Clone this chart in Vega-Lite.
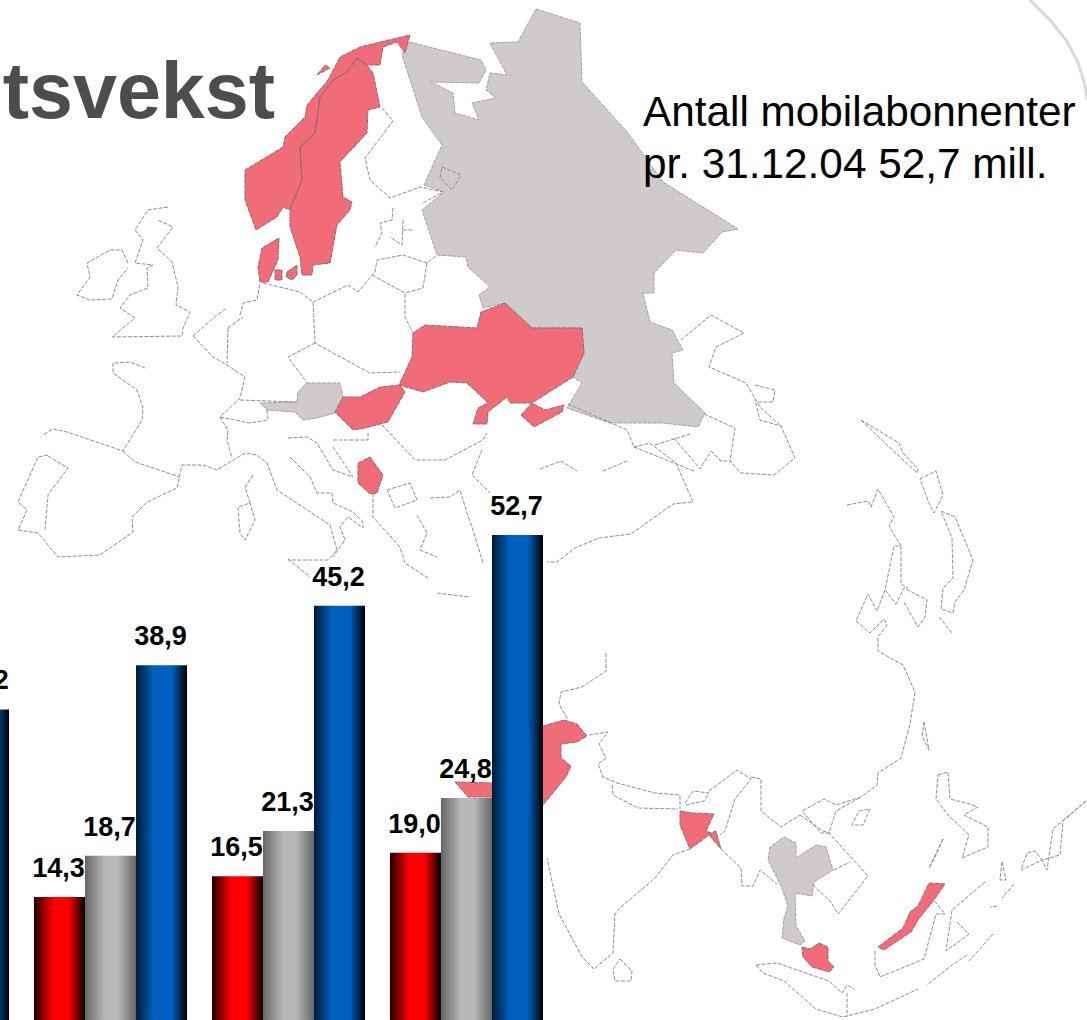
{"$schema":"https://vega.github.io/schema/vega-lite/v6.json","width":1087,"height":1020,"padding":0,"autosize":{"type":"none"},"background":"white","view":{"stroke":null},"datasets":{"bars":[{"p":"P1","s":"c","v":34.2,"t":"34,2"},{"p":"P2","s":"a","v":14.3,"t":"14,3"},{"p":"P2","s":"b","v":18.7,"t":"18,7"},{"p":"P2","s":"c","v":38.9,"t":"38,9"},{"p":"P3","s":"a","v":16.5,"t":"16,5"},{"p":"P3","s":"b","v":21.3,"t":"21,3"},{"p":"P3","s":"c","v":45.2,"t":"45,2"},{"p":"P4","s":"a","v":19.0,"t":"19,0"},{"p":"P4","s":"b","v":24.8,"t":"24,8"},{"p":"P4","s":"c","v":52.7,"t":"52,7"}]},"resolve":{"scale":{"x":"independent","y":"independent","xOffset":"independent"}},"layer":[
{"data":{"values":[{"type":"Feature","properties":{"name":"swoosh"},"geometry":{"type":"LineString","coordinates":[[1030,0],[1050,20],[1066,40],[1078,62],[1085,85],[1087,100]]}}]},"projection":{"type":"identity","scale":1,"translate":[0,0]},"mark":{"type":"geoshape","filled":false,"fill":null,"stroke":"#d6d9dd","strokeWidth":3}},
{"data":{"values":[{"type":"Feature","properties":{"name":"grey"},"geometry":{"type":"MultiPolygon","coordinates":[[[[536,9],[580,23],[582,82],[628,133],[663,182],[738,229],[722,232],[703,253],[676,250],[654,273],[654,293],[643,293],[650,322],[672,330],[683,350],[672,353],[674,383],[705,413],[698,427],[663,423],[610,423],[567,408],[582,383],[573,377],[584,353],[582,328],[532,328],[505,303],[483,308],[479,295],[490,287],[468,267],[466,257],[437,255],[422,210],[444,192],[424,185],[442,145],[422,117],[402,55],[409,42],[481,60],[486,70],[479,83],[431,82],[453,93],[455,113],[479,120],[472,103],[496,98],[486,90],[490,73],[507,75],[490,43],[518,42],[536,9]]],[[[307,383],[340,383],[343,397],[335,413],[317,418],[303,420],[295,412],[267,410],[260,403],[297,402],[298,392],[307,383]]],[[[784,837],[796,843],[796,858],[816,845],[826,847],[833,870],[814,882],[812,896],[795,893],[796,926],[805,941],[800,945],[782,938],[784,918],[788,906],[781,886],[768,860],[770,847],[784,837]]]]}}]},"projection":{"type":"identity","scale":1,"translate":[0,0]},"mark":{"type":"geoshape","fill":"#cfcbcb","stroke":"#a5a1a1","strokeWidth":1,"strokeDash":[4,1]}},
{"data":{"values":[{"type":"Feature","properties":{"name":"red"},"geometry":{"type":"MultiPolygon","coordinates":[[[[410,35],[405,53],[397,42],[383,47],[380,65],[367,65],[357,58],[347,72],[333,80],[320,97],[315,133],[300,147],[302,180],[290,210],[283,207],[277,217],[256,230],[245,200],[245,170],[283,147],[285,137],[305,117],[307,105],[328,80],[340,57],[360,47],[393,39],[410,35]]],[[[357,58],[367,65],[373,73],[380,107],[368,110],[367,133],[340,162],[343,197],[352,202],[350,210],[337,225],[330,263],[313,265],[312,275],[302,275],[300,257],[290,227],[290,210],[302,180],[300,147],[315,133],[320,97],[333,80],[347,72],[357,58]]],[[[279,238],[278,260],[268,282],[260,282],[258,267],[262,248],[279,238]]],[[[275,270],[282,270],[282,280],[275,280],[275,270]]],[[[287,272],[297,265],[297,275],[292,280],[286,277],[287,272]]],[[[317,75],[325,65],[330,68],[317,75]]],[[[505,303],[532,328],[582,328],[584,353],[573,377],[532,403],[510,403],[507,397],[488,412],[487,424],[473,424],[478,408],[488,403],[467,383],[450,382],[423,392],[399,385],[412,357],[413,333],[425,325],[477,328],[481,312],[505,303]]],[[[521,415],[532,403],[545,410],[564,405],[562,412],[534,427],[521,415]]],[[[343,397],[360,397],[380,387],[400,385],[405,392],[388,422],[365,428],[353,430],[335,412],[343,397]]],[[[370,457],[383,475],[377,493],[370,494],[358,483],[358,463],[370,457]]],[[[455,782],[493,783],[520,740],[543,726],[564,720],[577,724],[587,736],[577,742],[561,744],[561,758],[571,766],[566,777],[543,805],[490,797],[468,797],[455,782]]],[[[680,811],[693,813],[714,814],[706,831],[711,833],[716,831],[721,849],[709,835],[690,849],[680,825],[680,811]]],[[[802,947],[810,949],[819,943],[828,947],[828,961],[834,967],[829,972],[812,967],[803,957],[802,947]]],[[[878,947],[903,928],[910,912],[918,906],[929,883],[945,884],[934,900],[918,920],[911,932],[884,950],[878,947]]]]}}]},"projection":{"type":"identity","scale":1,"translate":[0,0]},"mark":{"type":"geoshape","fill":"#f06c78","stroke":"#8f6a6e","strokeWidth":1,"strokeDash":[5,1]}},
{"data":{"values":[{"type":"Feature","properties":{"name":"outlines"},"geometry":{"type":"MultiLineString","coordinates":[[[168,207],[148,210],[135,230],[143,240],[135,263],[153,265],[147,268],[148,288],[130,295],[120,308],[135,318],[112,337],[182,336],[183,328],[190,312],[176,305],[178,287],[172,262],[157,248],[173,227],[158,220]],[[128,263],[122,250],[110,250],[87,263],[90,277],[77,295],[90,300],[112,299],[118,280],[128,268]],[[145,368],[130,362],[113,363],[113,373],[137,390],[143,408],[142,420],[123,451],[67,432],[53,429],[43,435]],[[48,455],[38,457],[18,502],[27,510],[18,530],[38,533],[58,557],[100,555],[133,532],[132,517],[147,502],[177,488],[182,465],[203,465],[217,470],[245,453],[257,455],[267,463],[277,490],[330,525],[337,550],[328,560],[288,560]],[[48,456],[68,468],[48,495],[45,530]],[[123,451],[135,462],[180,477]],[[290,457],[310,477],[317,493],[332,493],[333,503],[353,512],[363,522],[363,528],[348,517],[340,527],[345,540],[333,557]],[[288,438],[307,437],[317,443],[333,470],[353,477]],[[373,493],[373,517],[400,547],[405,563],[428,578]],[[193,336],[217,315],[227,308]],[[240,315],[243,303],[257,300],[260,283]],[[193,336],[213,357],[227,365],[245,377],[240,398],[220,417],[228,430],[227,440],[232,458]],[[228,328],[227,363]],[[228,328],[243,317]],[[263,283],[300,292],[313,302],[315,343],[333,353],[370,373],[400,372]],[[313,302],[348,285],[358,292],[375,272],[377,260],[403,255],[427,263],[437,255]],[[372,275],[405,293],[405,317],[413,333]],[[427,263],[423,288],[405,293]],[[315,343],[288,357],[307,383]],[[240,400],[297,402]],[[220,417],[250,423],[268,420],[267,410]],[[382,425],[415,460],[445,460],[483,440],[487,433]],[[482,450],[472,475],[490,493]],[[387,490],[410,483],[417,500],[395,508],[387,490]],[[333,440],[368,440],[368,433]],[[333,447],[353,477]],[[430,498],[450,497],[460,490],[467,513],[473,530],[483,563]],[[417,515],[427,533],[420,550],[437,557]],[[288,559],[310,577]],[[253,475],[245,487],[250,503],[238,507],[240,533],[245,540],[255,520],[250,503]],[[437,593],[470,597]],[[382,108],[393,121],[365,158],[370,180],[390,198],[420,187],[443,192],[423,203]],[[393,208],[392,220],[380,223],[382,233],[375,247]],[[403,220],[402,245],[390,237]],[[403,230],[413,230]],[[442,167],[461,175],[452,190],[440,178],[442,167]],[[568,404],[627,430],[634,447],[650,443],[676,463],[693,502],[673,504],[631,534],[599,538],[575,548],[557,562],[547,562]],[[704,414],[735,428],[730,461],[741,473],[774,475],[795,458],[781,426],[760,420],[755,400]],[[681,340],[711,315],[744,333],[716,347],[709,367],[746,383],[760,407],[782,427]],[[755,385],[775,390],[773,402],[757,402]],[[634,447],[694,471]],[[711,451],[721,461],[730,461]],[[655,445],[690,434]],[[674,438],[700,469],[711,451]],[[540,469],[561,461],[577,471]],[[603,471],[627,461]],[[861,420],[899,443],[903,453],[918,469],[917,473],[885,443],[861,420]],[[847,505],[868,501],[871,507],[878,489],[894,517],[889,526],[901,546],[894,546],[885,590],[896,604],[904,588],[927,600],[925,617],[918,627],[904,602]],[[901,546],[901,584],[908,588]],[[885,590],[877,611],[868,594],[856,621],[870,633],[884,619],[887,625],[878,637],[878,651],[903,665],[915,692],[910,724],[901,758],[878,773],[877,785],[861,797],[836,805],[824,799],[802,811],[821,833],[829,833],[836,811],[861,797]],[[924,722],[929,750],[922,736],[924,722]],[[859,811],[870,809],[863,825],[852,825],[859,811]],[[920,479],[936,471],[943,495],[934,513],[929,503],[920,479]],[[941,511],[955,517],[973,560],[964,590],[955,602],[953,613],[941,609],[943,588],[953,578],[952,538],[941,511]],[[939,617],[952,633]],[[606,653],[606,671],[582,687],[561,692],[559,704],[568,720]],[[589,735],[608,732],[599,744],[606,758],[598,764],[603,777],[617,783],[655,793],[680,795],[680,809]],[[612,785],[613,795],[638,808],[678,809]],[[685,803],[693,791],[709,793],[704,801],[686,805]],[[709,791],[737,770],[751,779],[735,799],[725,831],[720,835]],[[751,777],[761,779],[761,811],[781,827],[800,815]],[[721,849],[741,868],[742,886],[753,886],[760,870],[777,884]],[[800,815],[823,831],[829,833],[868,876],[838,914],[831,902],[812,884]],[[834,870],[850,862]],[[690,849],[673,855],[655,878],[620,908],[615,914],[613,953],[594,969],[582,957],[559,914],[547,858]],[[620,959],[632,971],[631,981],[615,981],[613,969],[620,959]],[[756,965],[777,963],[829,981],[842,993],[847,985],[854,989]],[[756,965],[763,973],[784,981],[816,1009],[843,1017],[875,1009],[918,989]],[[847,993],[847,1017]],[[875,951],[875,965],[880,977],[924,959],[936,914],[945,914],[934,900]],[[985,882],[952,910],[946,951],[969,934],[957,922]],[[938,775],[948,772],[950,799],[966,803],[978,807],[964,815],[988,827],[988,847],[962,858],[969,835],[948,815],[936,799],[938,775]],[[943,839],[929,868],[936,855],[943,839]],[[1086,801],[1053,829],[1047,870],[1042,860],[1021,870],[1027,853],[1035,851],[1042,860],[1060,855],[1063,821],[1086,801]],[[993,934],[969,961]],[[967,955],[952,965],[927,985]],[[1014,884],[1002,898]],[[997,906],[990,907]],[[1002,862],[1006,880],[1000,880],[1002,862]]]}}]},"projection":{"type":"identity","scale":1,"translate":[0,0]},"mark":{"type":"geoshape","filled":false,"fill":null,"stroke":"#8e8e8e","strokeWidth":1,"strokeDash":[4,1.5]}},
{"data":{"name":"bars"},"transform":[{"filter":"datum.s==='a'"}],"mark":{"type":"bar","color":{"gradient":"linear","x1":0,"x2":1,"y1":0,"y2":0,"stops":[{"offset":0,"color":"#200000"},{"offset":0.38,"color":"#ff0000"},{"offset":0.68,"color":"#ff0000"},{"offset":1,"color":"#000000"}]}},"encoding":{"x":{"field":"p","type":"nominal","scale":{"domain":["P1","P2","P3","P4"],"range":[-144,543],"paddingInner":0.14,"paddingOuter":0},"axis":null},"xOffset":{"field":"s","type":"nominal","scale":{"domain":["a","b","c"]}},"y":{"field":"v","type":"quantitative","scale":{"domain":[1.27,109.43],"range":[1020,0],"clamp":true,"nice":false,"zero":false},"axis":null}}},
{"data":{"name":"bars"},"transform":[{"filter":"datum.s==='b'"}],"mark":{"type":"bar","color":{"gradient":"linear","x1":0,"x2":1,"y1":0,"y2":0,"stops":[{"offset":0,"color":"#666666"},{"offset":0.4,"color":"#b8b8b8"},{"offset":0.65,"color":"#b8b8b8"},{"offset":1,"color":"#666666"}]}},"encoding":{"x":{"field":"p","type":"nominal","scale":{"domain":["P1","P2","P3","P4"],"range":[-144,543],"paddingInner":0.14,"paddingOuter":0},"axis":null},"xOffset":{"field":"s","type":"nominal","scale":{"domain":["a","b","c"]}},"y":{"field":"v","type":"quantitative","scale":{"domain":[1.27,109.43],"range":[1020,0],"clamp":true,"nice":false,"zero":false},"axis":null}}},
{"data":{"name":"bars"},"transform":[{"filter":"datum.s==='c'"}],"mark":{"type":"bar","color":{"gradient":"linear","x1":0,"x2":1,"y1":0,"y2":0,"stops":[{"offset":0,"color":"#001a33"},{"offset":0.35,"color":"#0060c0"},{"offset":0.7,"color":"#0060c0"},{"offset":1,"color":"#000000"}]}},"encoding":{"x":{"field":"p","type":"nominal","scale":{"domain":["P1","P2","P3","P4"],"range":[-144,543],"paddingInner":0.14,"paddingOuter":0},"axis":null},"xOffset":{"field":"s","type":"nominal","scale":{"domain":["a","b","c"]}},"y":{"field":"v","type":"quantitative","scale":{"domain":[1.27,109.43],"range":[1020,0],"clamp":true,"nice":false,"zero":false},"axis":null}}},
{"data":{"name":"bars"},"mark":{"type":"text","font":"Liberation Sans","fontWeight":"bold","fontSize":27,"color":"#000000","baseline":"alphabetic","dy":-20,"dx":-1},"encoding":{"x":{"field":"p","type":"nominal","scale":{"domain":["P1","P2","P3","P4"],"range":[-144,543],"paddingInner":0.14,"paddingOuter":0},"axis":null},"xOffset":{"field":"s","type":"nominal","scale":{"domain":["a","b","c"]}},"y":{"field":"v","type":"quantitative","scale":{"domain":[1.27,109.43],"range":[1020,0],"clamp":true,"nice":false,"zero":false},"axis":null},"text":{"field":"t","type":"nominal"}}},
{"data":{"values":[{"label":"tsvekst"}]},"mark":{"type":"text","font":"Liberation Sans","fontWeight":"bold","fontSize":79,"color":"#4d4d4d","align":"right","baseline":"alphabetic"},"encoding":{"x":{"datum":275,"type":"quantitative","scale":{"domain":[0,1087],"range":[0,1087]},"axis":null},"y":{"datum":118,"type":"quantitative","scale":{"domain":[0,1020],"range":[0,1020]},"axis":null},"text":{"field":"label","type":"nominal"}}},
{"data":{"values":[{"label":"Antall mobilabonnenter\npr. 31.12.04 52,7 mill."}]},"mark":{"type":"text","font":"Liberation Sans","fontSize":42.3,"color":"#000000","align":"left","baseline":"alphabetic","lineBreak":"\n","lineHeight":52},"encoding":{"x":{"datum":643,"type":"quantitative","scale":{"domain":[0,1087],"range":[0,1087]},"axis":null},"y":{"datum":126,"type":"quantitative","scale":{"domain":[0,1020],"range":[0,1020]},"axis":null},"text":{"field":"label","type":"nominal"}}}
]}
